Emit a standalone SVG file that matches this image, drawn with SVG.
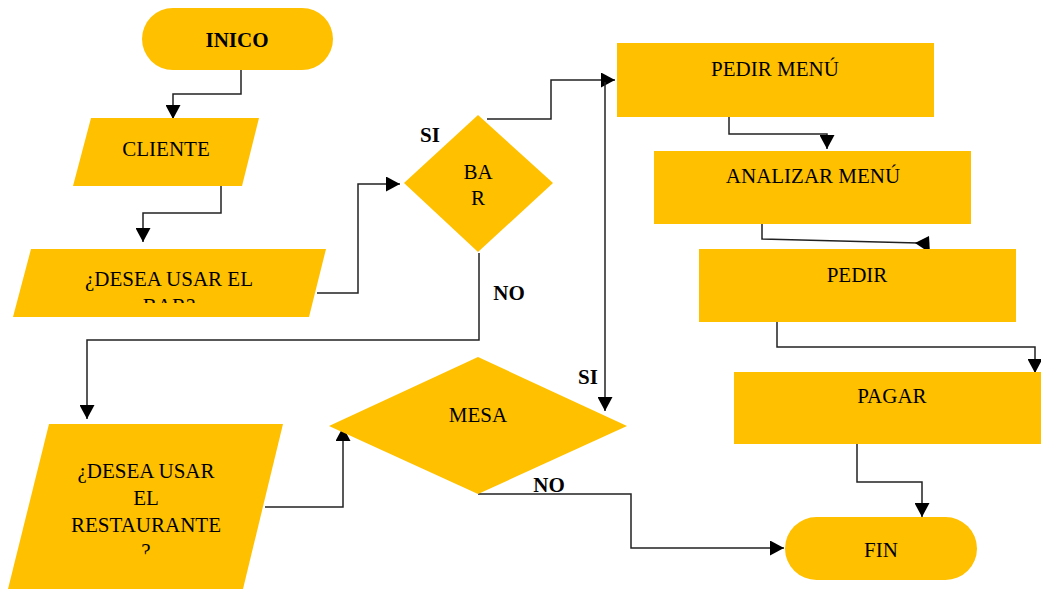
<svg xmlns="http://www.w3.org/2000/svg" width="1041" height="589" viewBox="0 0 1041 589" font-family="Liberation Serif, Times New Roman, Times, serif">
  <style>
    .shape { fill: #FFC000; stroke: none; }
    .lbl { font-size: 21px; fill: #000; text-anchor: middle; }
    .b { font-weight: bold; }
    .conn { fill: none; stroke: #222; stroke-width: 1.5; }
  </style>
  <defs>
    <marker id="arrow" markerUnits="userSpaceOnUse" markerWidth="15" markerHeight="15" refX="14" refY="7.5" orient="auto">
      <path d="M0,0 L14,7.5 L0,15 z" fill="#000"/>
    </marker>
    <clipPath id="clipBar"><rect x="0" y="240" width="340" height="63"/></clipPath>
    <clipPath id="clipRest"><rect x="0" y="420" width="300" height="135"/></clipPath>
  </defs>

  <rect width="1041" height="589" fill="#fff"/>

  <!-- connectors -->
  <g id="connectors">
    <path class="conn" d="M241,70 V94 H173 V119" marker-end="url(#arrow)"/>
    <path class="conn" d="M221,186 V213 H143 V242" marker-end="url(#arrow)"/>
    <path class="conn" d="M317,293 H358 V184 H400" marker-end="url(#arrow)"/>
    <path class="conn" d="M487,119 H551 V80 H615" marker-end="url(#arrow)"/>
    <path class="conn" d="M605,82 V411" marker-end="url(#arrow)"/>
    <path class="conn" d="M479,253 V340 H87 V419" marker-end="url(#arrow)"/>
    <path class="conn" d="M265,507 H343 V427" marker-end="url(#arrow)"/>
    <path class="conn" d="M478,494 H631 V548 H784" marker-end="url(#arrow)"/>
    <path class="conn" d="M729,117 V134 H827 V149" marker-end="url(#arrow)"/>
    <path class="conn" d="M762,224 V239 L918,243"/>
    <polygon points="915,243 929,236 930,253" fill="#000"/>
    <path class="conn" d="M777,320 V347 H1035 V373" marker-end="url(#arrow)"/>
    <path class="conn" d="M857,444 V482 H922 V517" marker-end="url(#arrow)"/>
  </g>

  <!-- branch labels -->
  <g id="labels">
    <text class="lbl b" x="430" y="142">SI</text>
    <text class="lbl b" x="509" y="300">NO</text>
    <text class="lbl b" x="588" y="384">SI</text>
    <text class="lbl b" x="549" y="492">NO</text>
  </g>

  <g id="inicio">
    <rect class="shape" x="142" y="8" width="191" height="62" rx="31"/>
    <text class="lbl b" x="237" y="47">INICO</text>
  </g>

  <g id="cliente">
    <polygon class="shape" points="91,118 259,118 242,186 73,186"/>
    <text class="lbl" x="166" y="156">CLIENTE</text>
  </g>

  <g id="desea-bar">
    <polygon class="shape" points="31,249 326,249 309,317 13,317"/>
    <g clip-path="url(#clipBar)">
      <text class="lbl" x="169" y="286">¿DESEA USAR EL</text>
      <text class="lbl" x="169" y="312.7">BAR?</text>
    </g>
  </g>

  <g id="bar">
    <polygon class="shape" points="404,183 478,115 553,183 478,252"/>
    <text class="lbl" x="478" y="179">BA</text>
    <text class="lbl" x="478" y="205">R</text>
  </g>

  <g id="desea-restaurante">
    <polygon class="shape" points="49,424 283,424 243,589 8,589"/>
    <g clip-path="url(#clipRest)">
      <text class="lbl" x="146" y="478.3">¿DESEA USAR</text>
      <text class="lbl" x="146" y="505">EL</text>
      <text class="lbl" x="146" y="531.7">RESTAURANTE</text>
      <text class="lbl" x="146" y="558.4">?</text>
    </g>
  </g>

  <g id="mesa">
    <polygon class="shape" points="329,426 478,357 627,426 478,494"/>
    <text class="lbl" x="478" y="422">MESA</text>
  </g>

  <g id="pedir-menu">
    <rect class="shape" x="617" y="43" width="317" height="74"/>
    <text class="lbl" x="775" y="76">PEDIR MENÚ</text>
  </g>

  <g id="analizar-menu">
    <rect class="shape" x="654" y="151" width="317" height="73"/>
    <text class="lbl" x="813" y="183">ANALIZAR MENÚ</text>
  </g>

  <g id="pedir">
    <rect class="shape" x="699" y="249" width="317" height="73"/>
    <text class="lbl" x="857" y="282">PEDIR</text>
  </g>

  <g id="pagar">
    <rect class="shape" x="734" y="372" width="317" height="72"/>
    <text class="lbl" x="892" y="403">PAGAR</text>
  </g>

  <g id="fin">
    <rect class="shape" x="785" y="517" width="192" height="63" rx="31.5"/>
    <text class="lbl" x="881" y="557">FIN</text>
  </g>
</svg>
